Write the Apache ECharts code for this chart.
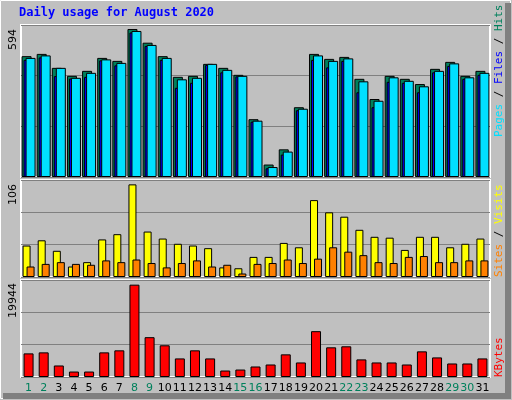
<!DOCTYPE html>
<html>
<head>
<meta charset="utf-8">
<script src="https://cdn.jsdelivr.net/npm/echarts@6/dist/echarts.min.js"></script>
<style>
html,body{margin:0;padding:0;background:#c0c0c0;}
#main{width:512px;height:400px;}
</style>
</head>
<body>
<div id="main"></div>
<script>
var days = [];
for (var d = 1; d <= 31; d++) days.push(String(d));
var weekend = ['1','2','8','9','15','16','22','23','29','30'];

var hits  = [485,494,438,406,426,478,466,594,539,485,402,406,454,438,410,232,50,111,280,494,474,482,394,313,406,394,373,434,462,406,426];
var files = [478,488,438,398,418,472,458,586,530,478,392,398,454,430,406,226,40,102,274,488,466,476,384,306,400,386,364,426,456,400,418];
var pages = [470,480,405,395,402,468,448,580,526,470,358,378,450,420,404,222,35,90,268,470,440,466,340,280,382,378,340,420,446,394,410];
var visits = [36,42,30,12,17,43,49,106,52,44,38,36,33,11,10,23,23,39,34,88,74,69,54,46,45,31,46,46,34,38,44];
var sites  = [12,15,17,15,14,19,17,20,16,11,16,19,12,14,4,15,16,20,16,21,34,29,25,17,16,23,24,17,17,19,19];
var kbytes = [5100,5320,2490,1180,1180,5320,5760,19944,8600,6850,4010,5760,4010,1400,1610,2270,2700,4890,3140,9900,6410,6630,3800,3140,3140,2700,5540,4230,2920,2920,4010];

var maxHits = 594, maxVisits = 106, maxKB = 19944;

var myChart = echarts.init(document.getElementById('main'));
var edge = {borderColor:'#000', borderWidth:1};

function yax(idx, top) {
    return {
        gridIndex: idx, min: 0, max: top, interval: top / 3,
        axisLabel: {show: false}, axisTick: {show: false}, axisLine: {show: false},
        splitLine: {lineStyle: {color: '#808080', width: 1}}
    };
}
function xax(idx, labels) {
    return {
        gridIndex: idx, type: 'category', data: days,
        axisLine: {show: false}, axisTick: {show: false},
        axisLabel: labels ? {
            show: true, fontFamily: 'DejaVu Sans', fontSize: 11, margin: 6, interval: 0,
            color: function (v) { return weekend.indexOf(v) >= 0 ? '#00805c' : '#000'; }
        } : {show: false}
    };
}

var option = {
    backgroundColor: '#c0c0c0',
    animation: false,
    graphic: [
        {type: 'rect', shape: {x: 0.5, y: 0.5, width: 510, height: 398}, style: {fill: 'none', stroke: '#fff', lineWidth: 1}},
        {type: 'polyline', shape: {points: [[508, 3], [508, 396], [3, 396]]}, style: {stroke: '#808080', lineWidth: 6, fill: 'none'}},
        {type: 'text', left: 19, top: 7, style: {text: 'Daily usage for August 2020', fill: '#0000ff', font: 'bold 12px "DejaVu Sans Mono"'}},
        {type: 'text', x: 8, y: 50, rotation: Math.PI / 2, style: {text: String(maxHits), fill: '#000', font: '11px "DejaVu Sans"'}},
        {type: 'text', x: 8, y: 205, rotation: Math.PI / 2, style: {text: String(maxVisits), fill: '#000', font: '11px "DejaVu Sans"'}},
        {type: 'text', x: 8, y: 318, rotation: Math.PI / 2, style: {text: String(maxKB), fill: '#000', font: '11px "DejaVu Sans"'}},
        {type: 'text', x: 494, y: 137, rotation: Math.PI / 2, style: {
            text: '{p|Pages} / {f|Files} / {h|Hits}', font: '11px "DejaVu Sans Mono"', fill: '#000',
            rich: {p: {fill: '#00e0ff', font: '11px "DejaVu Sans Mono"'}, f: {fill: '#0000ff', font: '11px "DejaVu Sans Mono"'}, h: {fill: '#00805c', font: '11px "DejaVu Sans Mono"'}}
        }},
        {type: 'text', x: 494, y: 277, rotation: Math.PI / 2, style: {
            text: '{s|Sites} / {v|Visits}', font: '11px "DejaVu Sans Mono"', fill: '#000',
            rich: {s: {fill: '#ff8000', font: '11px "DejaVu Sans Mono"'}, v: {fill: '#ffff00', font: '11px "DejaVu Sans Mono"'}}
        }},
        {type: 'text', x: 494, y: 377, rotation: Math.PI / 2, style: {text: 'KBytes', fill: '#ff0000', font: '11px "DejaVu Sans Mono"'}}
    ],
    grid: [
        {left: 21, right: 22, top: 25, height: 152, show: true, backgroundColor: '#c0c0c0', borderColor: '#fff', borderWidth: 2},
        {left: 21, right: 22, top: 180, height: 97, show: true, backgroundColor: '#c0c0c0', borderColor: '#fff', borderWidth: 2},
        {left: 21, right: 22, top: 280, height: 97, show: true, backgroundColor: '#c0c0c0', borderColor: '#fff', borderWidth: 2}
    ],
    xAxis: [xax(0, false), xax(1, false), xax(2, true)],
    yAxis: [yax(0, 610), yax(1, 111), yax(2, 20950)],
    series: [
        {name: 'Hits', type: 'bar', xAxisIndex: 0, yAxisIndex: 0, data: hits, barWidth: 10, barGap: '-80%', itemStyle: Object.assign({color: '#00805c'}, edge)},
        {name: 'Pages', type: 'bar', xAxisIndex: 0, yAxisIndex: 0, data: pages, barWidth: 10, barGap: '-80%', itemStyle: Object.assign({color: '#0000ff'}, edge)},
        {name: 'Files', type: 'bar', xAxisIndex: 0, yAxisIndex: 0, data: files, barWidth: 10, barGap: '-80%', itemStyle: Object.assign({color: '#00e0ff'}, edge)},
        {name: 'Visits', type: 'bar', xAxisIndex: 1, yAxisIndex: 1, data: visits, barWidth: 8, barGap: '-50%', itemStyle: Object.assign({color: '#ffff00'}, edge)},
        {name: 'Sites', type: 'bar', xAxisIndex: 1, yAxisIndex: 1, data: sites, barWidth: 8, barGap: '-50%', itemStyle: Object.assign({color: '#ff8000'}, edge)},
        {name: 'KBytes', type: 'bar', xAxisIndex: 2, yAxisIndex: 2, data: kbytes, barWidth: 10, itemStyle: Object.assign({color: '#ff0000'}, edge)}
    ]
};
myChart.setOption(option);
</script>
</body>
</html>
